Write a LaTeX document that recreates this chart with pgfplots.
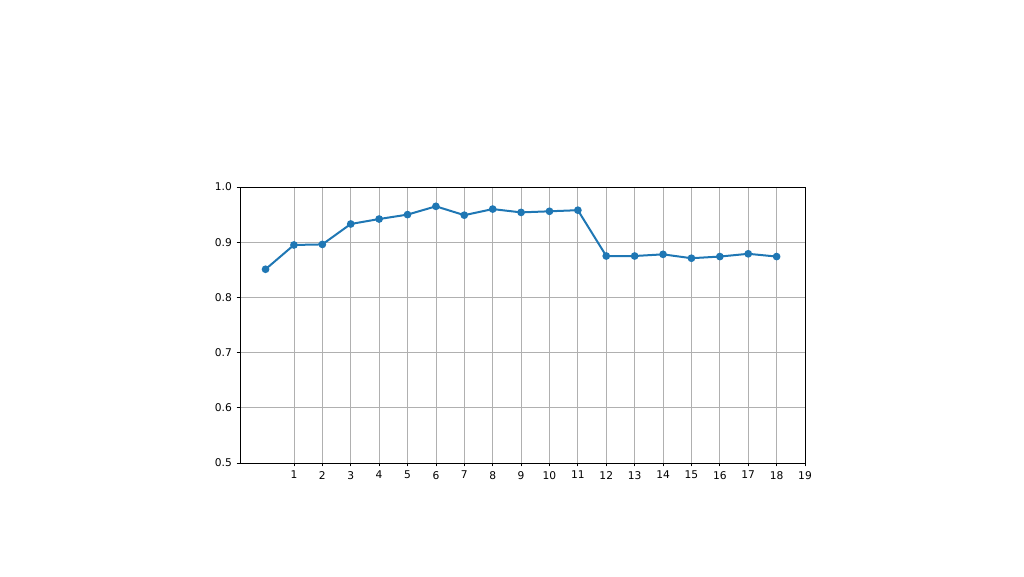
\documentclass[border=0pt]{standalone}
\usepackage{fontspec}
\setmainfont{DejaVu Sans}
\usepackage{pgfplots}
\pgfplotsset{compat=1.18}
\definecolor{mplblue}{HTML}{1F77B4}
\definecolor{gridgray}{HTML}{B0B0B0}
\begin{document}
\begin{tikzpicture}
% full page, 1px = 0.75pt
\path[use as bounding box] (0,0) rectangle (768pt,432pt);
\begin{axis}[
    at={(180pt,84.75pt)}, anchor=south west,
    scale only axis,
    width=423.75pt, height=207pt,
    xmin=-0.9, xmax=19,
    ymin=0.5, ymax=1.0,
    xtick={1,2,...,19},
    ytick={0.5,0.6,0.7,0.8,0.9,1.0},
    yticklabel style={/pgf/number format/.cd,fixed,fixed zerofill,precision=1},
    /pgf/number format/assume math mode=true,
    ticklabel style={font=\fontsize{8}{9.6}\selectfont},
    tick align=outside,
    major tick length=2.6pt,
    tick style={black, line width=0.6pt},
    axis line style={black, line width=0.6pt},
    grid=major,
    major grid style={gridgray, line width=0.6pt},
    xtick pos=bottom, ytick pos=left,
]
\addplot[mplblue, line width=1.5pt, mark=*, mark size=2.1pt, mark options={solid, fill=mplblue, draw=mplblue}]
coordinates {
(0,0.851) (1,0.895) (2,0.896) (3,0.933) (4,0.942) (5,0.950) (6,0.965)
(7,0.949) (8,0.960) (9,0.954) (10,0.956) (11,0.958) (12,0.875) (13,0.875)
(14,0.878) (15,0.871) (16,0.874) (17,0.879) (18,0.874)
};
\end{axis}
\end{tikzpicture}
\end{document}
